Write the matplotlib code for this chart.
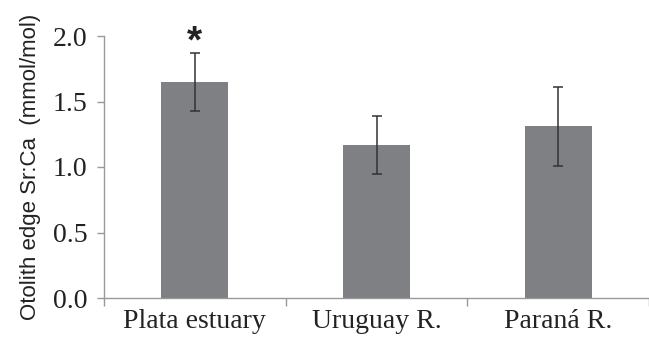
import matplotlib
matplotlib.use("Agg")
import matplotlib.pyplot as plt
import numpy as np

categories = ["Plata estuary", "Uruguay R.", "Paraná R."]
means = [1.65, 1.17, 1.31]
errors = [0.22, 0.22, 0.30]
yticks = [0.0, 0.5, 1.0, 1.5, 2.0]

fig = plt.figure(figsize=(6.49, 3.38), dpi=100)
ax = fig.add_axes([104/649, 1-298/338, (649-104)/649, (298-36)/338])

x = np.arange(len(categories)) + 0.5
ax.bar(x, means, width=0.37, color="#7f8083", zorder=2)
ax.errorbar(x, means, yerr=errors, fmt="none", ecolor="#333333", elinewidth=1.1,
            capsize=3.5, capthick=1.1, zorder=3)
ax.text(x[0], means[0] + errors[0] - 0.06, "*", ha="center", va="bottom",
        fontsize=28, fontweight="bold", fontfamily="Liberation Sans", color="#222222")

ax.set_xlim(0, 3)
ax.set_ylim(0, 2.0)
ax.set_yticks(yticks)
ax.set_yticklabels([f"{v:.1f}" for v in yticks], fontfamily="Liberation Serif", fontsize=20, color="#222222")
ax.set_xticks([0, 1, 2, 3])
ax.set_xticklabels([])
ax.set_xticks(x, minor=True)
ax.set_xticklabels(categories, minor=True, fontfamily="Liberation Serif", fontsize=20, color="#222222")
ax.tick_params(axis="x", which="minor", length=0, pad=8)
ax.tick_params(axis="x", which="major", length=6, color="#999999", width=1)
ax.tick_params(axis="y", length=5, color="#999999", width=1, pad=7)
for s in ["top", "right"]:
    ax.spines[s].set_visible(False)
for s in ["left", "bottom"]:
    ax.spines[s].set_color("#999999")
    ax.spines[s].set_linewidth(1)
ax.set_ylabel("Otolith edge Sr:Ca  (mmol/mol)", fontfamily="Liberation Sans", fontsize=16,
              color="#222222", labelpad=8)

fig.savefig("out.png", dpi=100)
